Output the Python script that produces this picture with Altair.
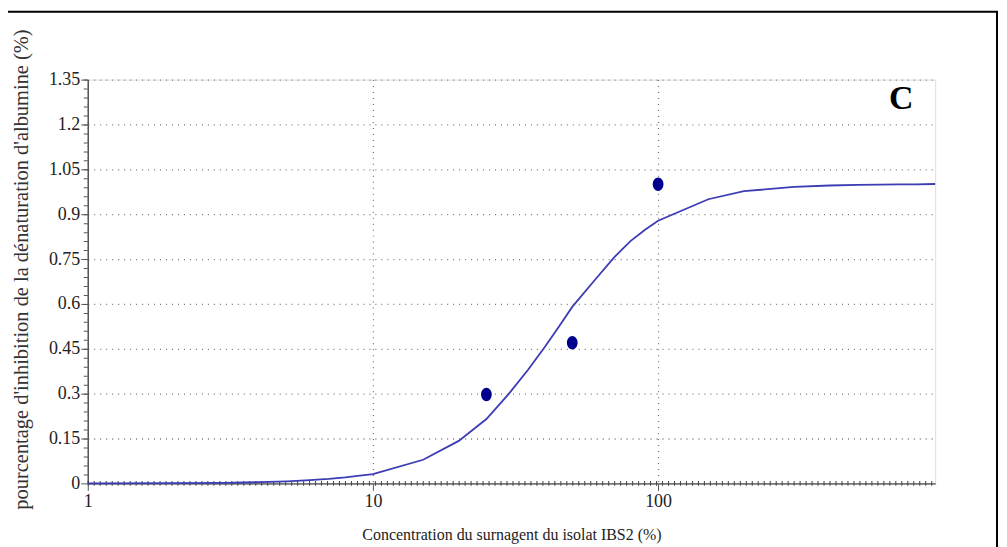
import altair as alt
import pandas as pd

# Fitted curve
curve_x = [1, 2, 3, 4, 5, 6, 7, 8, 9, 10, 15, 20, 25, 30, 35, 40, 45, 50, 60, 70,
           80, 90, 100, 150, 200, 300, 400, 500, 600, 700, 800, 937]
curve_y = [0.000, 0.001, 0.002, 0.004, 0.007, 0.011, 0.015, 0.020, 0.026, 0.031,
           0.079, 0.142, 0.215, 0.300, 0.380, 0.455, 0.525, 0.590, 0.680, 0.755,
           0.810, 0.848, 0.878, 0.950, 0.977, 0.991, 0.996, 0.998, 0.999, 1.000,
           1.000, 1.001]

# Measured points
dots_x = [25, 50, 100]
dots_y = [0.297, 0.47, 1.0]

x_ticks = [1, 10, 100]
y_ticks = [0, 0.15, 0.3, 0.45, 0.6, 0.75, 0.9, 1.05, 1.2, 1.35]

panel_label = ["C"]
label_x = [713]
label_y = [1.285]

X_DOMAIN = [1, 937]
Y_DOMAIN = [0, 1.35]
W, H = 850, 405

curve_df = pd.DataFrame({"x": curve_x, "y": curve_y})
dots_df = pd.DataFrame({"x": dots_x, "y": dots_y})
label_df = pd.DataFrame({"x": label_x, "y": label_y, "t": panel_label})
one = pd.DataFrame({"k": [0]})

xscale = alt.Scale(type="log", domain=X_DOMAIN, nice=False)
yscale = alt.Scale(domain=Y_DOMAIN, nice=False, zero=False)

FONT = "Liberation Serif"

xaxis = alt.Axis(
    values=x_ticks, labelExpr="format(datum.value, '~g')",
    title="Concentration du surnagent du isolat IBS2 (%)",
    grid=True, gridDash=[1, 5], gridColor="#777", gridWidth=1.3,
    domainColor="#777", domainWidth=2, tickColor="#555", tickSize=7,
    labelFont=FONT, labelFontSize=18, labelColor="#222", labelPadding=2,
    titleFont=FONT, titleFontSize=16, titleFontWeight="normal", titleColor="#222",
    titleY=51, titleBaseline="middle", labelFlush=False,
)
yaxis = alt.Axis(
    values=y_ticks, labelExpr="format(datum.value, '.2~f')",
    title="pourcentage d'inhibition de la dénaturation d'albumine (%)",
    grid=True, gridDash=[1, 5], gridColor="#777", gridWidth=1.3,
    domainColor="#555", domainWidth=1.5, tickColor="#555", tickSize=7,
    labelFont=FONT, labelFontSize=18, labelColor="#222", labelPadding=1,
    titleFont=FONT, titleFontSize=20.5, titleFontWeight="normal", titleColor="#333",
    titleX=-66, titleY=190, titleAlign="center", titleBaseline="middle",
    labelFlush=False,
)

line = alt.Chart(curve_df).mark_line(color="#3c3cb4", strokeWidth=1.8).encode(
    x=alt.X("x:Q", scale=xscale, axis=xaxis),
    y=alt.Y("y:Q", scale=yscale, axis=yaxis),
)

ellipse = "M -0.8 0 A 0.8 1 0 1 1 0.8 0 A 0.8 1 0 1 1 -0.8 0 Z"
dots = alt.Chart(dots_df).mark_point(
    shape=ellipse, filled=True, color="#00008c", size=180, opacity=1
).encode(
    x=alt.X("x:Q", scale=xscale),
    y=alt.Y("y:Q", scale=yscale),
)

label = alt.Chart(label_df).mark_text(
    font=FONT, fontSize=34, fontWeight="bold", color="#000", align="center",
    baseline="middle",
).encode(
    x=alt.X("x:Q", scale=xscale),
    y=alt.Y("y:Q", scale=yscale),
    text="t:N",
)

# decorative minor-tick patterns along the axes
x_minor = alt.Chart(one).mark_rule(
    color="#444", strokeWidth=5, strokeDash=[1, 5]
).encode(x=alt.value(0), x2=alt.value(W), y=alt.value(H))

y_minor = alt.Chart(one).mark_rule(
    color="#555", strokeWidth=4, strokeDash=[1, 8]
).encode(x=alt.value(-2), y=alt.value(0), y2=alt.value(H))

# outer black frame
frame = alt.Chart(one).mark_rect(
    fill=None, stroke="#000", strokeWidth=2, clip=False
).encode(x=alt.value(-81), x2=alt.value(912), y=alt.value(-68), y2=alt.value(485))

chart = alt.layer(frame, x_minor, y_minor, line, dots, label).properties(
    width=W, height=H,
    autosize=alt.AutoSizeParams(type="none"),
    padding={"left": 80, "top": 71, "right": 64, "bottom": 63},
).configure_view(
    stroke="#888", strokeDash=[1, 5], strokeWidth=1.3
).configure(background="white")

chart.save("out.html", embed_options={"renderer": "svg", "actions": False})
